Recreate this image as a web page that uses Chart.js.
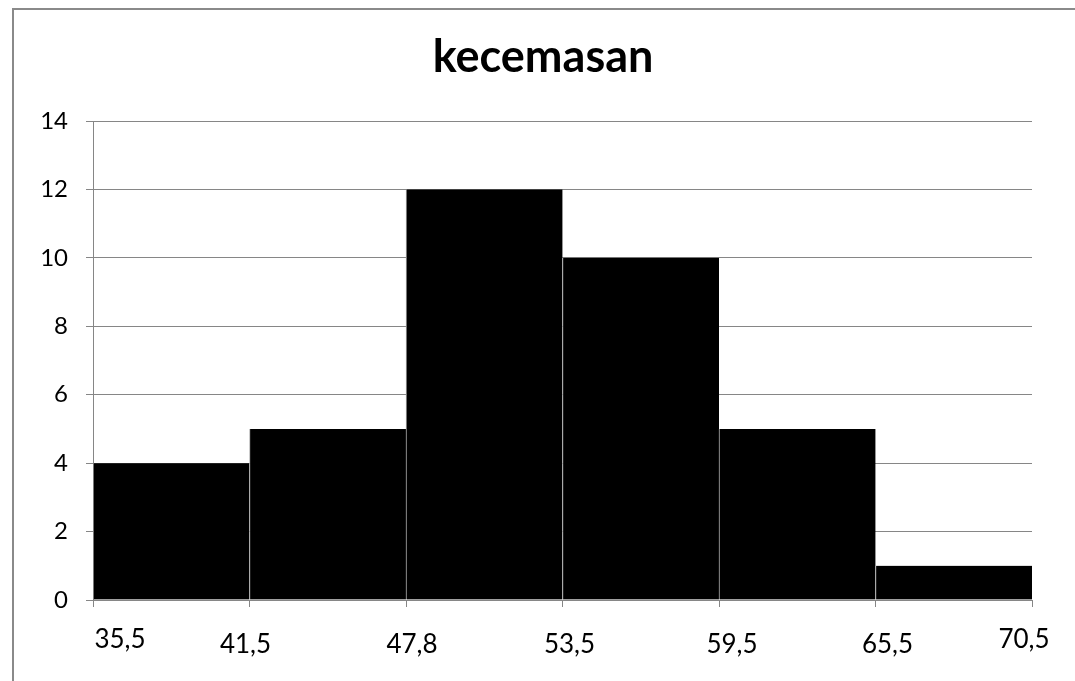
<!DOCTYPE html>
<html>
<head>
<meta charset="utf-8">
<script src="https://cdn.jsdelivr.net/npm/chart.js@4"></script>
<style>
  html, body { margin: 0; padding: 0; background: #fff; }
  #wrap { position: relative; width: 1075px; height: 681px; overflow: hidden; }
  #frame { position: absolute; left: 12px; top: 8px; width: 1100px; height: 700px;
           border-left: 2px solid #8a8a8a; border-top: 2px solid #8a8a8a; }
  canvas { position: absolute; left: 0; top: 0; }
</style>
</head>
<body>
<div id="wrap">
  <div id="frame"></div>
  <canvas id="c" width="1075" height="681"></canvas>
</div>
<script>
// Class boundaries shown under the axis, and the frequency of each class
const boundaryLabels = ['35,5', '41,5', '47,8', '53,5', '59,5', '65,5', '70,5'];
const frequencies = [4, 5, 12, 10, 5, 1];
const yTicks = [0, 2, 4, 6, 8, 10, 12, 14];
const chartTitle = 'kecemasan';

const gridGray = '#868686';

// each class bar sits between two consecutive boundaries
const barPoints = frequencies.map((v, i) => ({ x: i + 0.5, y: v }));

// boundary labels are drawn a little staggered, like the original spreadsheet layout
const labelNudge = [
  { dx: 27, base: 648 }, { dx: -4, base: 653 }, { dx: 6, base: 653 },
  { dx: 7, base: 653 }, { dx: 13, base: 653 }, { dx: 12, base: 653 },
  { dx: -8, base: 648 }
];

const boundaryLabelPlugin = {
  id: 'boundaryLabels',
  afterDraw(chart) {
    const ctx = chart.ctx;
    const xs = chart.scales.x;
    ctx.save();
    ctx.font = '26px Lato';
    ctx.fillStyle = '#000';
    ctx.textAlign = 'center';
    ctx.textBaseline = 'alphabetic';
    boundaryLabels.forEach((lab, i) => {
      const px = xs.getPixelForValue(i) + labelNudge[i].dx;
      ctx.fillText(lab, px, labelNudge[i].base);
    });
    ctx.restore();
  }
};

// centre the title over the whole frame rather than over the plot only
const titleShift = {
  id: 'titleShift',
  afterLayout(chart) {
    const tb = chart.titleBlock;
    if (tb) {
      tb.left = 54;
      tb.width = tb.right - tb.left;
    }
  }
};

new Chart(document.getElementById('c'), {
  type: 'bar',
  data: {
    datasets: [{
      data: barPoints,
      backgroundColor: '#000',
      borderColor: '#b4b4b4',
      borderWidth: { left: 1, right: 0, top: 0, bottom: 0 },
      borderSkipped: false,
      barPercentage: 1,
      categoryPercentage: 1
    }]
  },
  options: {
    responsive: false,
    animation: false,
    events: [],
    layout: { padding: { top: 0, left: 0, right: 43, bottom: 0 } },
    plugins: {
      legend: { display: false },
      tooltip: { enabled: false },
      title: {
        display: true,
        text: chartTitle,
        color: '#000',
        font: { family: 'Lato', size: 45, weight: 'bold', lineHeight: 1.2 },
        padding: { top: 30, bottom: 37 }
      }
    },
    scales: {
      x: {
        type: 'linear',
        offset: false,
        min: 0,
        max: boundaryLabels.length - 1,
        afterBuildTicks(scale) {
          scale.ticks = boundaryLabels.map((_, i) => ({ value: i }));
        },
        afterFit(scale) { scale.height = 81; },
        ticks: { display: false },
        grid: { drawOnChartArea: false, drawTicks: true, tickLength: 7, color: gridGray, lineWidth: 1, offset: false },
        border: { display: true, color: gridGray, width: 1 }
      },
      y: {
        min: 0,
        max: 14,
        afterBuildTicks(scale) {
          scale.ticks = yTicks.map(v => ({ value: v }));
        },
        afterFit(scale) { scale.width = 93; },
        ticks: {
          color: '#000',
          font: { family: 'Lato', size: 24 },
          padding: 18
        },
        grid: { color: gridGray, lineWidth: 1, tickLength: 7 },
        border: { display: true, color: gridGray, width: 1 }
      }
    }
  },
  plugins: [boundaryLabelPlugin, titleShift]
});
</script>
</body>
</html>
